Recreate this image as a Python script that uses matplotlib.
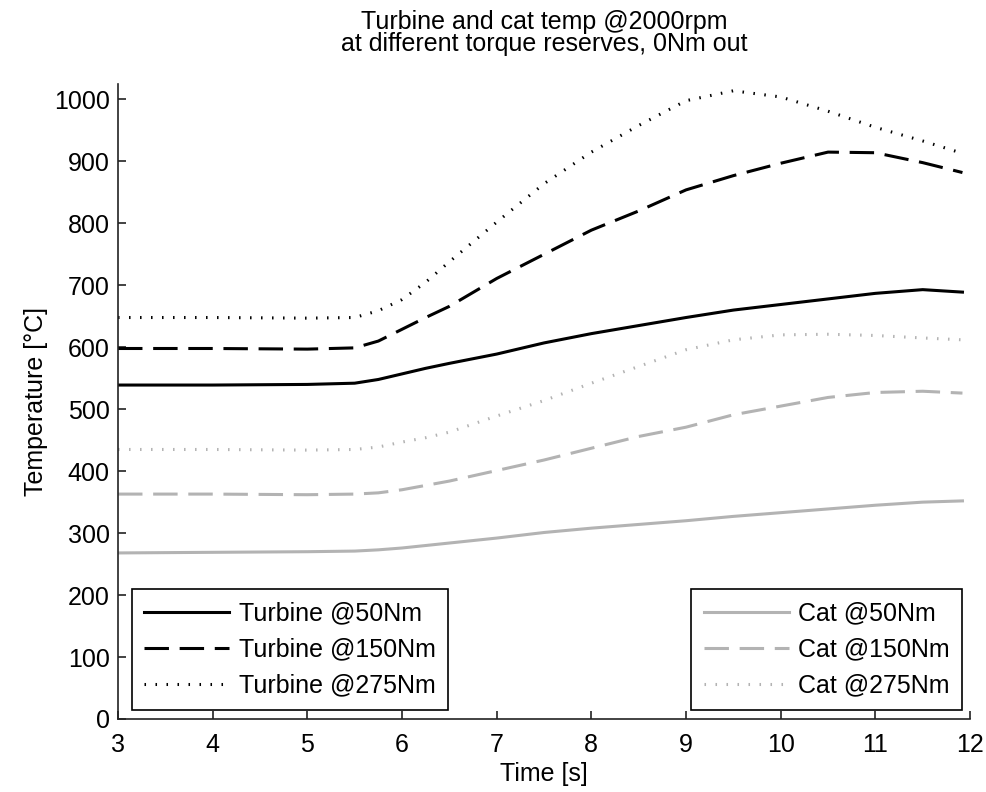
import matplotlib
matplotlib.use("Agg")
import matplotlib.pyplot as plt

# time axis [s]
time_s = [3, 4, 5, 5.5, 5.75, 6, 6.25, 6.5, 7, 7.5, 8, 8.5, 9, 9.5, 10, 10.5, 11, 11.5, 11.92]

# turbine temperatures [degC]
turbine_50 = [539, 539, 540, 542, 548, 557, 566, 574, 589, 607, 622, 635, 648, 660, 669, 678, 687, 693, 689]
turbine_150 = [598, 598, 597, 599, 610, 629, 648, 666, 711, 750, 789, 820, 854, 877, 897, 915, 914, 898, 882]
turbine_275 = [648, 648, 647, 648, 659, 677, 705, 738, 802, 864, 915, 958, 998, 1014, 1004, 981, 955, 933, 913]

# cat temperatures [degC]
cat_50 = [268, 269, 270, 271, 273, 276, 280, 284, 292, 301, 308, 314, 320, 327, 333, 339, 345, 350, 352]
cat_150 = [363, 363, 362, 363, 365, 370, 377, 384, 401, 418, 437, 456, 471, 491, 505, 519, 527, 529, 526]
cat_275 = [435, 435, 434, 435, 439, 447, 454, 463, 489, 514, 542, 569, 596, 612, 620, 621, 619, 615, 612]

labels_turbine = ["Turbine @50Nm", "Turbine @150Nm", "Turbine @275Nm"]
labels_cat = ["Cat @50Nm", "Cat @150Nm", "Cat @275Nm"]

plt.rcParams["font.family"] = ["Liberation Sans", "DejaVu Sans"]
plt.rcParams["font.size"] = 18

GRAY = "#b3b3b3"
DASH = (0, (8, 3.5))
DOT = (0, (0.5, 3.1))

fig = plt.figure(figsize=(9.86, 7.92), dpi=100)
ax = fig.add_axes([0.1197, 0.0922, 0.8641, 0.8018])

lt = []
lt += ax.plot(time_s, turbine_50, color="black", lw=2.2, ls="-")
lt += ax.plot(time_s, turbine_150, color="black", lw=2.2, ls=DASH)
lt += ax.plot(time_s, turbine_275, color="black", lw=2.2, ls=DOT, dash_capstyle="butt")
lc = []
lc += ax.plot(time_s, cat_50, color=GRAY, lw=2.2, ls="-")
lc += ax.plot(time_s, cat_150, color=GRAY, lw=2.2, ls=DASH)
lc += ax.plot(time_s, cat_275, color=GRAY, lw=2.2, ls=DOT, dash_capstyle="butt")

ax.set_xlim(3, 12)
ax.set_ylim(0, 1025)
ax.set_xticks(range(3, 13))
ax.set_yticks(range(0, 1001, 100))

for side in ("top", "right"):
    ax.spines[side].set_visible(False)
for side in ("left", "bottom"):
    ax.spines[side].set_linewidth(1.2)
    ax.spines[side].set_color("#222222")
ax.tick_params(direction="in", length=6, width=1.2, color="#222222", labelsize=18)
ax.tick_params(axis="x", pad=10)
ax.tick_params(axis="y", pad=6)

ax.set_xlabel("Time [s]", fontsize=18, labelpad=4)
ax.set_ylabel("Temperature [\u00b0C]", fontsize=18, labelpad=4)
ax.set_title("Turbine and cat temp @2000rpm\nat different torque reserves, 0Nm out",
             fontsize=18, linespacing=0.88, pad=24)

leg_opts = dict(fontsize=18, frameon=True, fancybox=False, framealpha=1,
                edgecolor="black", borderaxespad=0, handlelength=3.4,
                handletextpad=0.38, labelspacing=0.48, borderpad=0.5)
leg1 = ax.legend(lt, labels_turbine, loc="lower left",
                 bbox_to_anchor=(0.0164, 0.0142), **leg_opts)
leg1.get_frame().set_linewidth(1.2)
ax.add_artist(leg1)
leg2 = ax.legend(lc, labels_cat, loc="lower right",
                 bbox_to_anchor=(0.991, 0.0142), **leg_opts)
leg2.get_frame().set_linewidth(1.2)

fig.savefig("out.png", dpi=100)
